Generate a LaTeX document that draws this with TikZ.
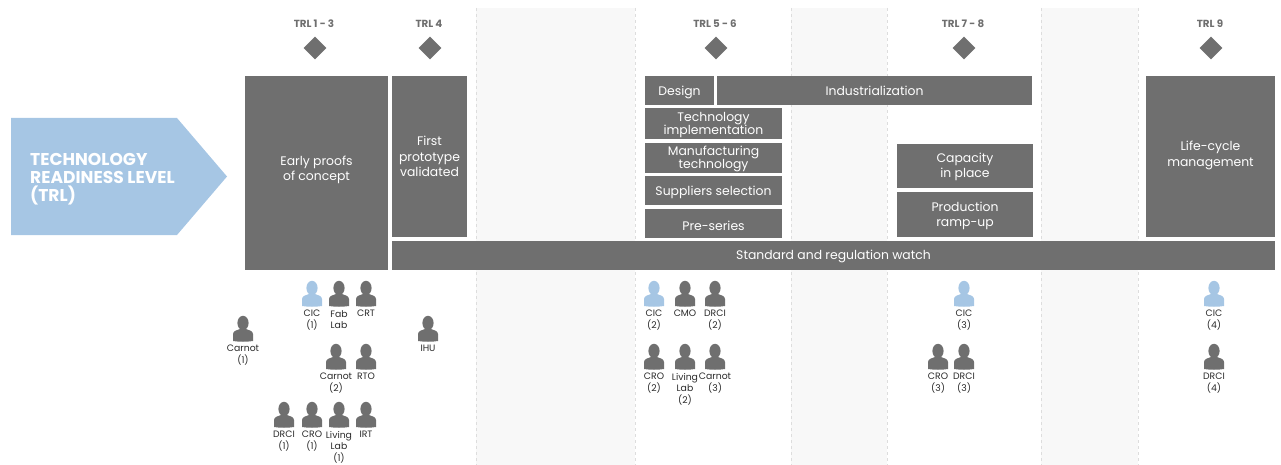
\documentclass[tikz,border=0pt]{standalone}
\usepackage{fontspec}
\setmainfont{Poppins}
\usetikzlibrary{shapes.geometric}
\definecolor{boxgray}{HTML}{6F6F6F}
\definecolor{trlblue}{HTML}{A6C6E4}
\definecolor{bandgray}{HTML}{F8F8F8}
\definecolor{dashgray}{HTML}{DDDDDD}
\definecolor{labelgray}{HTML}{2A2A2A}
\tikzset{
  box/.style={preaction={fill=boxgray, transform canvas={yshift=#1}}, yshift=-#1,
    text=white, inner sep=0pt, align=center,
    font=\fontsize{12.4}{13.4}\selectfont},
  box/.default=1.5pt,
  loose/.style={font=\fontsize{12.4}{15.2}\selectfont},
  trl/.style={text=boxgray, inner sep=0pt, font=\fontsize{10.3}{12}\selectfont\bfseries},
  milestone/.style={diamond, fill=boxgray, inner sep=0pt, minimum width=23pt, minimum height=23pt},
  who/.style={text=labelgray, inner sep=0pt, align=center, anchor=north,
    font=\fontsize{9.3}{11.4}\selectfont},
  band/.style={fill=bandgray},
  bandedge/.style={dashgray, dashed, line width=0.7pt}
}
% icon at (x,y), then its label under it: name, x, y, colour, text
\newcommand{\person}[5]{
  \fill[#4] (#2,#3-6) ellipse (5.6 and 7.2);
  \fill[#4] (#2-10,#3+12) -- (#2-10,#3+5) .. controls (#2-10,#3+2) and (#2-6,#3+1) .. (#2-3,#3)
    -- (#2+3,#3) .. controls (#2+6,#3+1) and (#2+10,#3+2) .. (#2+10,#3+5) -- (#2+10,#3+12)
    .. controls (#2+4,#3+13) and (#2-4,#3+13) .. cycle;
  \node[who] (#1) at (#2,#3+16) {#5};
}
\begin{document}
\begin{tikzpicture}[x=1pt,y=-1pt]
  \useasboundingbox (0,0) rectangle (1281,465);
  % bands
  \fill[band] (476,8) rectangle (635,465);
  \fill[band] (791,8) rectangle (887,465);
  \fill[band] (1041,8) rectangle (1138,465);
  \draw[bandedge] (476,8) -- (476,465);
  \draw[bandedge] (635,8) -- (635,465);
  \draw[bandedge] (791,8) -- (791,465);
  \draw[bandedge] (887,8) -- (887,465);
  \draw[bandedge] (1041,8) -- (1041,465);
  \draw[bandedge] (1138,8) -- (1138,465);
  % arrow
  \fill[trlblue] (11,118) -- (177,118) -- (227,176.5) -- (177,235) -- (11,235) -- cycle;
  \node[text=white, inner sep=0pt, align=left, anchor=west,
    font=\fontsize{17.1}{18}\selectfont\bfseries] (title) at (30,179.5)
    {TECHNOLOGY\\READINESS LEVEL\\(TRL)};
  % scale
  \draw
    (314,24) node[trl] (trl1){TRL 1 - 3}
    (429,24) node[trl] (trl4){TRL 4}
    (715,24) node[trl] (trl5){TRL 5 - 6}
    (963,24) node[trl] (trl7){TRL 7 - 8}
    (1210,24) node[trl] (trl9){TRL 9};
  \draw
    (315,48) node[milestone] (m1){}
    (430,48) node[milestone] (m4){}
    (716,48) node[milestone] (m5){}
    (964,48) node[milestone] (m7){}
    (1211,48) node[milestone] (m9){};
  % boxes
  \draw
    (316.5,173) node[box=-3pt, loose, minimum width=143pt, minimum height=194pt] (proofs){Early proofs\\of concept}
    (429.5,156.5) node[box=0pt, loose, minimum width=75pt, minimum height=161pt] (proto){First\\prototype\\validated}
    (679.5,90.5) node[box, minimum width=69pt, minimum height=29pt] (design){Design}
    (874.5,90.5) node[box=0.5pt, minimum width=315pt, minimum height=29pt] (indus){Industrialization}
    (713.5,123.5) node[box=1.5pt, minimum width=137pt, minimum height=31pt] (impl){Technology\\implementation}
    (713.5,158) node[box=1pt, minimum width=137pt, minimum height=30pt] (manuf){Manufacturing\\technology}
    (713.5,190.5) node[box, minimum width=137pt, minimum height=29pt] (suppl){Suppliers selection}
    (713.5,223.5) node[box=2.5pt, minimum width=137pt, minimum height=29pt] (pre){Pre-series}
    (965,166) node[box=0.5pt, loose, minimum width=136pt, minimum height=44pt] (capa){Capacity\\in place}
    (965,214.5) node[box, loose, minimum width=136pt, minimum height=45pt] (ramp){Production\\ramp-up}
    (1210.5,156.5) node[box=-1pt, loose, minimum width=129pt, minimum height=161pt] (life){Life-cycle\\management}
    (833.5,255.5) node[box=1pt, minimum width=883pt, minimum height=29pt] (watch){Standard and regulation watch};
  % people
  \person{cic1}{312}{294}{trlblue}{CIC\\(1)}
  \person{fab}{339}{294}{boxgray}{Fab\\Lab}
  \person{crt}{366}{294}{boxgray}{CRT}
  \person{carnot1}{243}{329}{boxgray}{Carnot\\(1)}
  \person{ihu}{428}{329}{boxgray}{IHU}
  \person{carnot2}{336}{357}{boxgray}{Carnot\\(2)}
  \person{rto}{366}{357}{boxgray}{RTO}
  \person{drci1}{284}{415}{boxgray}{DRCI\\(1)}
  \person{cro1}{312}{415}{boxgray}{CRO\\(1)}
  \person{living1}{339}{415}{boxgray}{Living\\Lab\\(1)}
  \person{irt}{366}{415}{boxgray}{IRT}
  \person{cic2}{654}{294}{trlblue}{CIC\\(2)}
  \person{cmo}{685}{294}{boxgray}{CMO}
  \person{drci2}{715}{294}{boxgray}{DRCI\\(2)}
  \person{cro2}{654}{357}{boxgray}{CRO\\(2)}
  \person{living2}{685}{357}{boxgray}{Living\\Lab\\(2)}
  \person{carnot3}{715}{357}{boxgray}{Carnot\\(3)}
  \person{cic3}{964}{294}{trlblue}{CIC\\(3)}
  \person{cro3}{938}{357}{boxgray}{CRO\\(3)}
  \person{drci3}{964}{357}{boxgray}{DRCI\\(3)}
  \person{cic4}{1214}{294}{trlblue}{CIC\\(4)}
  \person{drci4}{1214}{357}{boxgray}{DRCI\\(4)}
\end{tikzpicture}
\end{document}
